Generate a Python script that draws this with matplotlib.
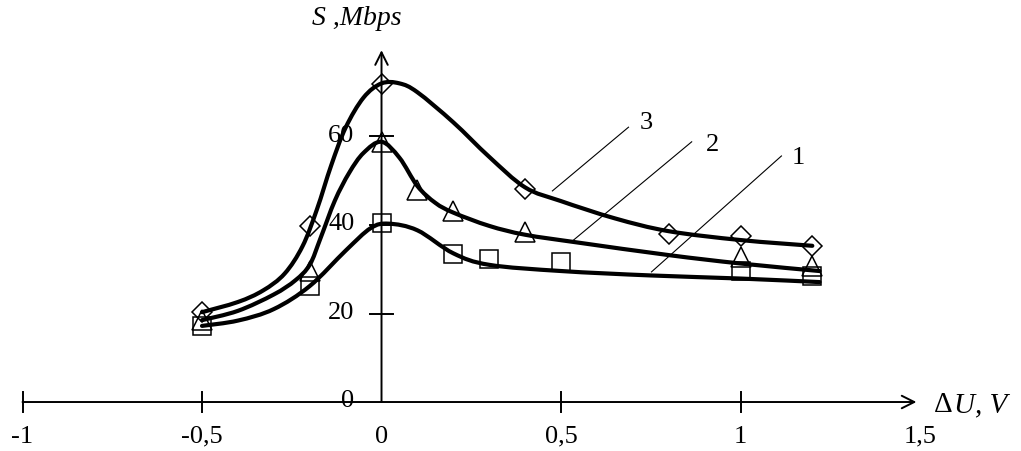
import matplotlib
matplotlib.use("Agg")
import matplotlib.pyplot as plt
from matplotlib.path import Path
from matplotlib.patches import PathPatch

# ---- data ----
x_ticks = [-1.0, -0.5, 0.0, 0.5, 1.0, 1.5]
x_tick_labels = ["-1", "-0,5", "0", "0,5", "1", "1,5"]
y_ticks = [0, 20, 40, 60]
y_tick_labels = ["0", "20", "40", "60"]

# measured points (markers)
s1_x = [-0.5, -0.2, 0.0, 0.2, 0.3, 0.5, 1.0, 1.2]
s1_y = [17.2, 26.2, 40.4, 33.4, 32.3, 31.6, 29.6, 28.5]
s2_x = [-0.5, -0.2, 0.0, 0.1, 0.2, 0.4, 1.0, 1.2]
s2_y = [18.5, 29.5, 58.8, 48.0, 43.2, 38.4, 32.8, 30.8]
s3_x = [-0.5, -0.2, 0.0, 0.4, 0.8, 1.0, 1.2]
s3_y = [20.3, 39.8, 71.9, 48.1, 38.0, 37.5, 35.3]

# fitted curves
c1_x = [-0.5, -0.4, -0.3, -0.2, -0.1, -0.03, 0.02, 0.1, 0.2, 0.3, 0.5, 0.75, 1.0, 1.22]
c1_y = [17.2, 18.4, 21.0, 26.2, 34.2, 39.3, 40.3, 38.8, 33.6, 31.0, 29.6, 28.6, 27.9, 27.1]
c2_x = [-0.5, -0.4, -0.3, -0.24, -0.2, -0.17, -0.13, -0.09, -0.05, 0.0, 0.05, 0.1, 0.15, 0.2, 0.3, 0.4, 0.55, 0.8, 1.0, 1.22]
c2_y = [18.5, 20.6, 24.3, 27.5, 31.0, 37.0, 45.5, 51.8, 56.3, 58.8, 55.2, 48.8, 45.0, 42.8, 39.8, 37.8, 36.0, 33.2, 31.3, 29.6]
c3_x = [-0.5, -0.4, -0.33, -0.27, -0.22, -0.18, -0.14, -0.1, -0.05, 0.0, 0.05, 0.1, 0.2, 0.3, 0.4, 0.5, 0.65, 0.8, 1.0, 1.2]
c3_y = [20.3, 22.6, 25.2, 29.0, 35.2, 43.5, 53.5, 62.0, 68.8, 72.0, 72.0, 70.0, 63.2, 55.4, 48.5, 45.4, 41.5, 38.6, 36.6, 35.3]

curve_labels = ["1", "2", "3"]
label_pos = [(1.162, 55.4), (0.922, 58.3), (0.738, 63.3)]
leader_from = [(0.752, 29.4), (0.529, 36.2), (0.476, 47.7)]
leader_to = [(1.114, 55.6), (0.864, 58.8), (0.688, 62.1)]

# ---- figure ----
W, H = 1021, 452
fig = plt.figure(figsize=(W / 100, H / 100), dpi=100)
ax = fig.add_axes([0, 0, 1, 1])
ax.set_xlim(-1.0627, 1.7813)
ax.set_ylim(-11.07, 91.07)
ax.axis("off")

serif = "Liberation Serif"
axis_lw = 1.4
fs = 19


def smooth_path(xs, ys):
    """Cubic Bezier path passing through the read points (Catmull-Rom style)."""
    verts = [(xs[0], ys[0])]
    codes = [Path.MOVETO]
    n = len(xs)
    for i in range(n - 1):
        p0 = (xs[i - 1], ys[i - 1]) if i > 0 else (xs[i], ys[i])
        p1 = (xs[i], ys[i])
        p2 = (xs[i + 1], ys[i + 1])
        p3 = (xs[i + 2], ys[i + 2]) if i + 2 < n else p2
        c1 = (p1[0] + (p2[0] - p0[0]) / 6.0, p1[1] + (p2[1] - p0[1]) / 6.0)
        c2 = (p2[0] - (p3[0] - p1[0]) / 6.0, p2[1] - (p3[1] - p1[1]) / 6.0)
        verts += [c1, c2, p2]
        codes += [Path.CURVE4, Path.CURVE4, Path.CURVE4]
    return Path(verts, codes)


# axes with open arrowheads
ax.annotate("", xy=(1.49, 0), xytext=(-1.0, 0),
            arrowprops=dict(arrowstyle="->,head_length=0.9,head_width=0.45",
                            lw=axis_lw, color="black", shrinkA=0, shrinkB=0))
ax.annotate("", xy=(0, 79.5), xytext=(0, 0),
            arrowprops=dict(arrowstyle="->,head_length=0.9,head_width=0.45",
                            lw=axis_lw, color="black", shrinkA=0, shrinkB=0))

# tick marks
for xt in x_ticks:
    if xt in (0.0, 1.5):
        continue
    ax.plot([xt, xt], [-2.3, 2.3], color="black", lw=axis_lw)
for yt in y_ticks:
    if yt == 0:
        continue
    ax.plot([-0.033, 0.033], [yt, yt], color="black", lw=axis_lw)

# tick labels
for xt, lab in zip(x_ticks, x_tick_labels):
    ax.text(xt, -7.6, lab, ha="center", va="center", fontsize=fs, family=serif)
for yt, lab in zip(y_ticks, y_tick_labels):
    ax.text(-0.075, yt + 0.4, lab, ha="right", va="center", fontsize=fs, family=serif)

# axis titles
ax.text(-0.07, 86.8, "S ,Mbps", ha="center", va="center", fontsize=20,
        family=serif, style="italic")
ax.text(1.54, -0.5, "\u0394", ha="left", va="center", fontsize=21, family=serif)
ax.text(1.594, -0.5, "U, V", ha="left", va="center", fontsize=21,
        family=serif, style="italic")

# curves
curve_lw = 3.0
for cx, cy in [(c1_x, c1_y), (c2_x, c2_y), (c3_x, c3_y)]:
    ax.add_patch(PathPatch(smooth_path(cx, cy), facecolor="none", edgecolor="black",
                           lw=curve_lw, capstyle="round", joinstyle="round", zorder=3))

# markers
mk = dict(linestyle="none", markerfacecolor="none", markeredgecolor="black",
          markeredgewidth=1.1, zorder=4)
ax.plot(s1_x, s1_y, marker="s", markersize=13, **mk)
ax.plot(s2_x, s2_y, marker="^", markersize=14, **mk)
ax.plot(s3_x, s3_y, marker="D", markersize=10, **mk)

# curve labels with leader lines
for lab, (lx, ly), (fx, fy), (tx, ty) in zip(curve_labels, label_pos, leader_from, leader_to):
    ax.plot([fx, tx], [fy, ty], color="black", lw=0.8, zorder=2)
    ax.text(lx, ly, lab, ha="center", va="center", fontsize=fs, family=serif)

fig.savefig("out.png", dpi=100)
